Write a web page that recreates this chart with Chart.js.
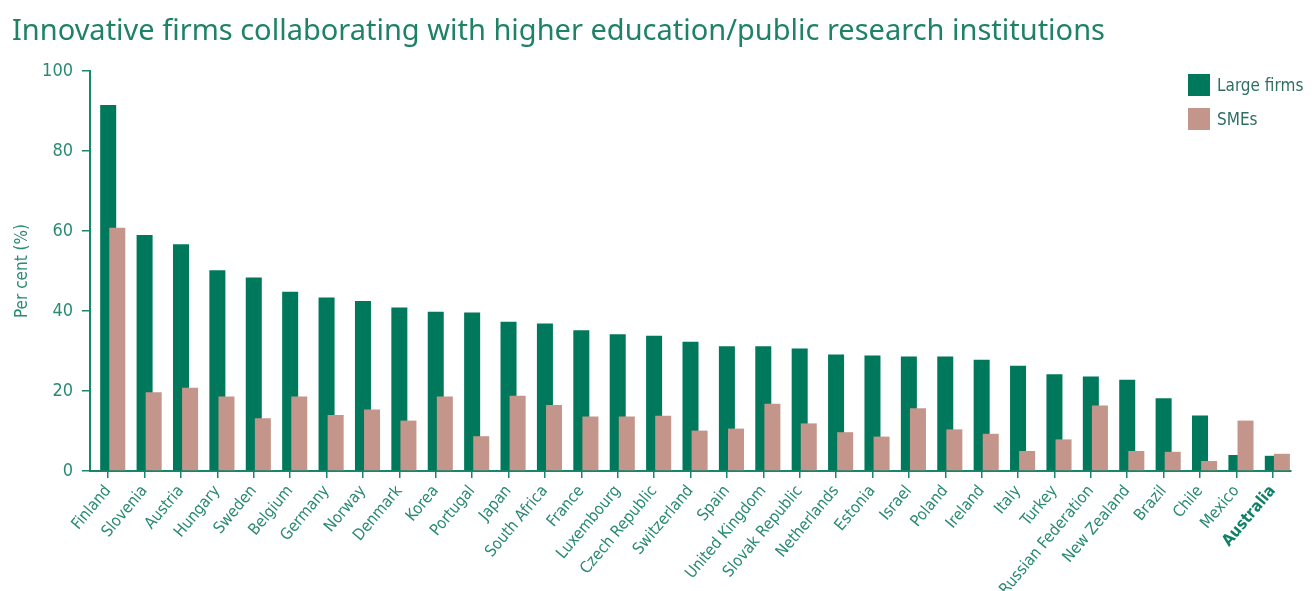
<!DOCTYPE html>
<html>
<head>
<meta charset="utf-8">
<title>Innovative firms collaborating with higher education/public research institutions</title>
<script src="https://cdn.jsdelivr.net/npm/chart.js@4.4.1/dist/chart.umd.min.js"></script>
<style>
  body { margin: 0; background: #fff; }
  #wrap { position: relative; width: 1314px; height: 591px; }
  #legend { position: absolute; left: 1188px; top: 74px; font-family: 'Liberation Sans Narrow', 'DejaVu Sans Condensed', sans-serif; font-size: 17px; color: #2f6f63; white-space: nowrap; }
  .leg-item { display: flex; align-items: center; height: 34px; margin-top: -6px; margin-bottom: 6px; }
  .leg-box { width: 22px; height: 22px; margin-right: 7px; flex: none; }
</style>
</head>
<body>
<div id="wrap">
  <canvas id="chart"></canvas>
  <div id="legend"></div>
</div>
<script>
// DATI
const countries = ['Finland', 'Slovenia', 'Austria', 'Hungary', 'Sweden', 'Belgium', 'Germany', 'Norway',
  'Denmark', 'Korea', 'Portugal', 'Japan', 'South Africa', 'France', 'Luxembourg', 'Czech Republic',
  'Switzerland', 'Spain', 'United Kingdom', 'Slovak Republic', 'Netherlands', 'Estonia', 'Israel',
  'Poland', 'Ireland', 'Italy', 'Turkey', 'Russian Federation', 'New Zealand', 'Brazil', 'Chile',
  'Mexico', 'Australia'];
const largeFirms = [91.5, 59, 56.7, 50.2, 48.4, 44.8, 43.4, 42.5, 40.9, 39.8, 39.6, 37.3, 36.9, 35.2, 34.2,
  33.8, 32.3, 31.2, 31.2, 30.6, 29.1, 28.9, 28.6, 28.6, 27.8, 26.3, 24.2, 23.6, 22.8, 18.2, 13.9, 4.0, 3.8];
const smes = [60.8, 19.7, 20.8, 18.6, 13.2, 18.6, 14, 15.4, 12.6, 18.6, 8.7, 18.8, 16.5, 13.6, 13.6,
  13.8, 10.1, 10.6, 16.8, 11.9, 9.7, 8.6, 15.7, 10.4, 9.3, 5.0, 7.9, 16.4, 5.0, 4.8, 2.5, 12.6, 4.3];
const yTicks = [0, 20, 40, 60, 80, 100];
const highlight = 'Australia';

const GREEN = '#00785b';
const PINK = '#c4968b';
const AXIS = '#17866a';
const TEXT = '#2a8a72';

Chart.defaults.font.family = "'Liberation Sans Narrow', 'DejaVu Sans Condensed', sans-serif";
Chart.defaults.color = TEXT;

// SMEs sovrapposte a destra delle barre verdi, disegnate sopra
const overlapPlugin = {
  id: 'overlap',
  beforeDatasetDraw(chart, args) {
    if (args.index === 1) return false;
  },
  afterDatasetsDraw(chart) {
    const x = chart.scales.x;
    const shift = (x.getPixelForValue(1) - x.getPixelForValue(0)) * 0.25;
    const ctx = chart.ctx;
    ctx.save();
    ctx.translate(shift, 0);
    chart.getDatasetMeta(1).controller.draw();
    ctx.restore();
  }
};

const chart = new Chart(document.getElementById('chart'), {
  type: 'bar',
  data: {
    labels: countries,
    datasets: [
      { label: 'Large firms', data: largeFirms, backgroundColor: GREEN, grouped: false,
        categoryPercentage: 1, barPercentage: 0.44 },
      { label: 'SMEs', data: smes, backgroundColor: PINK, grouped: false,
        categoryPercentage: 1, barPercentage: 0.44 }
    ]
  },
  options: {
    responsive: true,
    maintainAspectRatio: false,
    animation: false,
    events: [],
    layout: { padding: { left: 12, right: 23, top: 0, bottom: 0 } },
    plugins: {
      legend: { display: false },
      tooltip: { enabled: false },
      title: {
        display: true,
        text: 'Innovative firms collaborating with higher education/public research institutions',
        align: 'start',
        color: '#1f8267',
        font: { family: "'Noto Sans', sans-serif", size: 29, weight: 'normal', lineHeight: 1 },
        padding: { top: 17, bottom: 25 }
      }
    },
    scales: {
      x: {
        z: 1,
        offset: true,
        grid: { offset: false, drawOnChartArea: false, drawTicks: true, tickLength: 7, color: AXIS, lineWidth: 1.5 },
        border: { color: AXIS, width: 2 },
        ticks: {
          autoSkip: false,
          minRotation: 50,
          maxRotation: 50,
          padding: 4,
          font: ctx => ({ size: 16, weight: countries[ctx.index] === highlight ? 'bold' : 'normal' }),
          color: ctx => countries[ctx.index] === highlight ? '#11806a' : TEXT
        },
        afterFit: s => { s.height = 120; }
      },
      y: {
        z: 1,
        min: 0,
        max: 100,
        afterBuildTicks: s => { s.ticks = yTicks.map(v => ({ value: v })); },
        grid: { drawOnChartArea: false, drawTicks: true, tickLength: 8, color: AXIS, lineWidth: 1.5 },
        border: { color: AXIS, width: 2 },
        ticks: { padding: 9, font: { size: 18 }, color: TEXT },
        title: { display: true, text: 'Per cent (%)', font: { size: 17 }, color: TEXT, padding: 0 },
        afterFit: s => { s.width = 78; }
      }
    }
  },
  plugins: [overlapPlugin]
});

// LEGENDA
document.getElementById('legend').innerHTML = chart.data.datasets.map(ds => `
  <div class="leg-item"><div class="leg-box" style="background:${ds.backgroundColor}"></div>${ds.label}</div>
`).join('');
</script>
</body>
</html>
